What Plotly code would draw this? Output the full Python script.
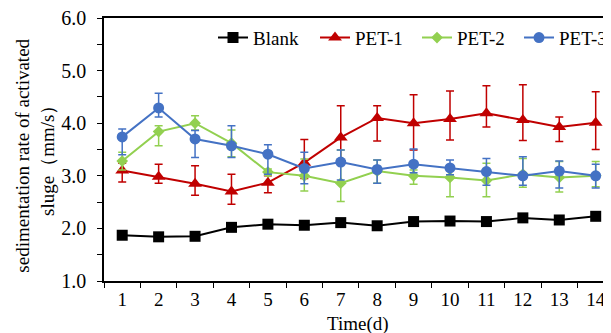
import plotly.graph_objects as go

days = list(range(1, 15))
tick_labels = [str(d) for d in days]

blank = [1.87, 1.84, 1.85, 2.02, 2.08, 2.06, 2.11, 2.05, 2.13, 2.14, 2.13, 2.20, 2.16, 2.23]
blank_err = [0.04, 0.03, 0.03, 0.05, 0.04, 0.05, 0.04, 0.05, 0.04, 0.05, 0.04, 0.04, 0.05, 0.06]

pet1 = [3.10, 2.98, 2.85, 2.70, 2.87, 3.25, 3.73, 4.10, 4.00, 4.08, 4.19, 4.06, 3.93, 4.01]
pet1_hi = [3.24, 3.22, 3.19, 3.03, 3.00, 3.69, 4.33, 4.33, 4.54, 4.61, 4.71, 4.73, 4.12, 4.60]
pet1_lo = [2.88, 2.86, 2.63, 2.46, 2.68, 2.95, 3.30, 3.66, 3.49, 3.68, 3.93, 3.67, 3.65, 3.50]

pet2 = [3.28, 3.84, 4.00, 3.62, 3.07, 3.00, 2.86, 3.09, 3.00, 2.97, 2.91, 3.03, 2.97, 3.00]
pet2_hi = [3.45, 3.95, 4.14, 3.87, 3.13, 3.32, 3.49, 3.30, 3.11, 3.11, 3.24, 3.33, 3.27, 3.27]
pet2_lo = [3.11, 3.57, 3.87, 3.36, 3.01, 2.71, 2.51, 2.86, 2.84, 2.60, 2.60, 2.78, 2.69, 2.79]

pet3 = [3.74, 4.29, 3.70, 3.57, 3.41, 3.14, 3.26, 3.12, 3.22, 3.15, 3.08, 3.00, 3.09, 3.00]
pet3_hi = [3.89, 4.57, 3.86, 3.95, 3.59, 3.45, 3.49, 3.30, 3.51, 3.30, 3.33, 3.36, 3.28, 3.22]
pet3_lo = [3.40, 4.12, 3.35, 3.35, 3.03, 2.85, 2.92, 2.86, 3.06, 3.02, 2.82, 2.82, 2.77, 2.77]

FONT = "Liberation Serif, 'Times New Roman', serif"

def series(name, y, hi, lo, color, symbol, size):
    plus = [h - v for h, v in zip(hi, y)]
    minus = [v - l for v, l in zip(y, lo)]
    return go.Scatter(
        x=days, y=y, name=name, mode="lines+markers",
        line=dict(color=color, width=2),
        marker=dict(color=color, symbol=symbol, size=size),
        error_y=dict(type="data", symmetric=False, array=plus, arrayminus=minus,
                     color=color, thickness=1.5, width=4),
    )

fig = go.Figure()
fig.add_trace(go.Scatter(
    x=days, y=blank, name="Blank", mode="lines+markers",
    line=dict(color="black", width=2),
    marker=dict(color="black", symbol="square", size=11),
    error_y=dict(type="data", array=blank_err, color="#555", thickness=1.5, width=4),
))
fig.add_trace(series("PET-1", pet1, pet1_hi, pet1_lo, "#C00000", "triangle-up", 12))
fig.add_trace(series("PET-2", pet2, pet2_hi, pet2_lo, "#92D050", "diamond", 9))
fig.add_trace(series("PET-3", pet3, pet3_hi, pet3_lo, "#4472C4", "circle", 11))

fig.add_annotation(text="Time(d)", xref="paper", yref="paper", x=0.5, y=-0.163,
                   xanchor="center", yanchor="middle", showarrow=False,
                   font=dict(size=19))
fig.add_annotation(text="sedimentation rate of activated<br>sluge（mm/s）",
                   xref="paper", yref="paper", x=-0.135, y=0.475, textangle=-90,
                   xanchor="center", yanchor="middle", showarrow=False,
                   font=dict(size=19))

fig.update_layout(
    width=603, height=325,
    margin=dict(l=96, r=0, t=10, b=52, autoexpand=False),
    plot_bgcolor="white", paper_bgcolor="white",
    font=dict(family=FONT, size=19, color="black"),
    showlegend=True,
    legend=dict(orientation="h", x=0.215, y=0.925, xanchor="left", yanchor="middle",
                bgcolor="rgba(0,0,0,0)", font=dict(size=19), itemwidth=30,
                entrywidth=57, entrywidthmode="pixels", tracegroupgap=0),
    xaxis=dict(
        range=[0.5, 14.42], tickvals=days, ticktext=tick_labels, ticks="",
        showline=True, linecolor="black", linewidth=1.5, mirror=True,
        showgrid=False, zeroline=False, automargin=False,
        ticklabeloverflow="allow",
        minor=dict(tickvals=[d + 0.5 for d in range(0, 15)], ticks="outside",
                   ticklen=5, tickcolor="black", tickwidth=1),
        tickfont=dict(size=19),
    ),
    yaxis=dict(
        range=[1, 6], dtick=1, tickformat=".1f", ticks="outside", ticklen=5,
        tickcolor="black", tickwidth=1, automargin=False, ticklabelstandoff=7,
        ticklabeloverflow="allow",
        showline=True, linecolor="black", linewidth=1.5,
        showgrid=False, zeroline=False,
        minor=dict(dtick=0.5, ticks="outside", ticklen=5, tickcolor="black", tickwidth=1),
        tickfont=dict(size=20),
    ),
)

fig.write_html("out.html")
